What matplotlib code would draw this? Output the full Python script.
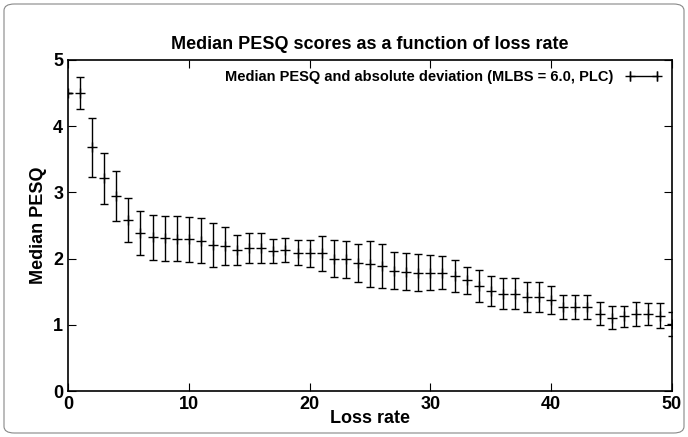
import matplotlib
matplotlib.use("Agg")
import matplotlib.pyplot as plt
from matplotlib.patches import FancyBboxPatch
from matplotlib.lines import Line2D

loss = list(range(51))
median = [4.5,4.5,3.68,3.21,2.95,2.58,2.39,2.32,2.31,2.30,2.29,2.27,2.21,2.19,2.13,2.16,2.16,2.11,2.13,2.09,2.08,2.08,2.0,1.99,1.93,1.92,
          1.89,1.82,1.80,1.79,1.79,1.79,1.74,1.67,1.59,1.51,1.47,1.47,1.42,1.42,1.38,1.27,1.27,1.27,1.17,1.11,1.13,1.16,1.16,1.14,1.01]
dev = [0.0,0.24,0.45,0.39,0.38,0.33,0.33,0.34,0.34,0.34,0.34,0.34,0.33,0.28,0.22,0.23,0.23,0.18,0.18,0.19,0.2,0.26,0.28,0.28,0.29,0.35,
       0.33,0.28,0.28,0.28,0.27,0.25,0.24,0.21,0.24,0.23,0.23,0.23,0.23,0.23,0.21,0.18,0.18,0.18,0.17,0.18,0.16,0.18,0.17,0.19,0.18]

plt.rcParams['font.family'] = ['Liberation Sans', 'DejaVu Sans']
plt.rcParams['font.weight'] = 'bold'
fig = plt.figure(figsize=(6.88, 4.37), dpi=100)
ax = fig.add_axes([68/688, 46/437, 604/688, 331/437])
fig.patches.append(FancyBboxPatch((4/688, 4/437), 680/688, 429/437, boxstyle="round,pad=0,rounding_size=0.015",
                                  transform=fig.transFigure, fill=False, ec='#888888', lw=0.8))
ax.errorbar(loss, median, yerr=dev, fmt='+', color='black', ms=7, mew=1, elinewidth=1, capsize=3, capthick=1)
ax.set_xlim(0, 50); ax.set_ylim(0, 5)
ax.set_xticks(range(0, 51, 10)); ax.set_yticks(range(0, 6))
ax.tick_params(direction='in', top=True, right=True, labelsize=13, length=6)
for s in ax.spines.values():
    s.set_linewidth(1.2)
for l in ax.get_xticklabels() + ax.get_yticklabels():
    l.set_fontweight('bold')
ax.set_xlabel('Loss rate', fontsize=13, fontweight='bold', labelpad=-2)
ax.set_ylabel('Median PESQ', fontsize=13, fontweight='bold')
ax.set_title('Median PESQ scores as a function of loss rate', fontsize=13, fontweight='bold', pad=8)
proxy = Line2D([], [], color='black', lw=1, marker='|', ms=7)
proxy2 = Line2D([], [], color='black', lw=0, marker='+', ms=7)
leg = ax.legend([(proxy, proxy2)], ['Median PESQ and absolute deviation (MLBS = 6.0, PLC)'],
                loc='upper right', frameon=False, fontsize=10.5, markerfirst=False, handlelength=2.5,
                numpoints=2, borderaxespad=0.3)
for t in leg.get_texts():
    t.set_fontweight('bold')
fig.savefig('out.png', dpi=100)
